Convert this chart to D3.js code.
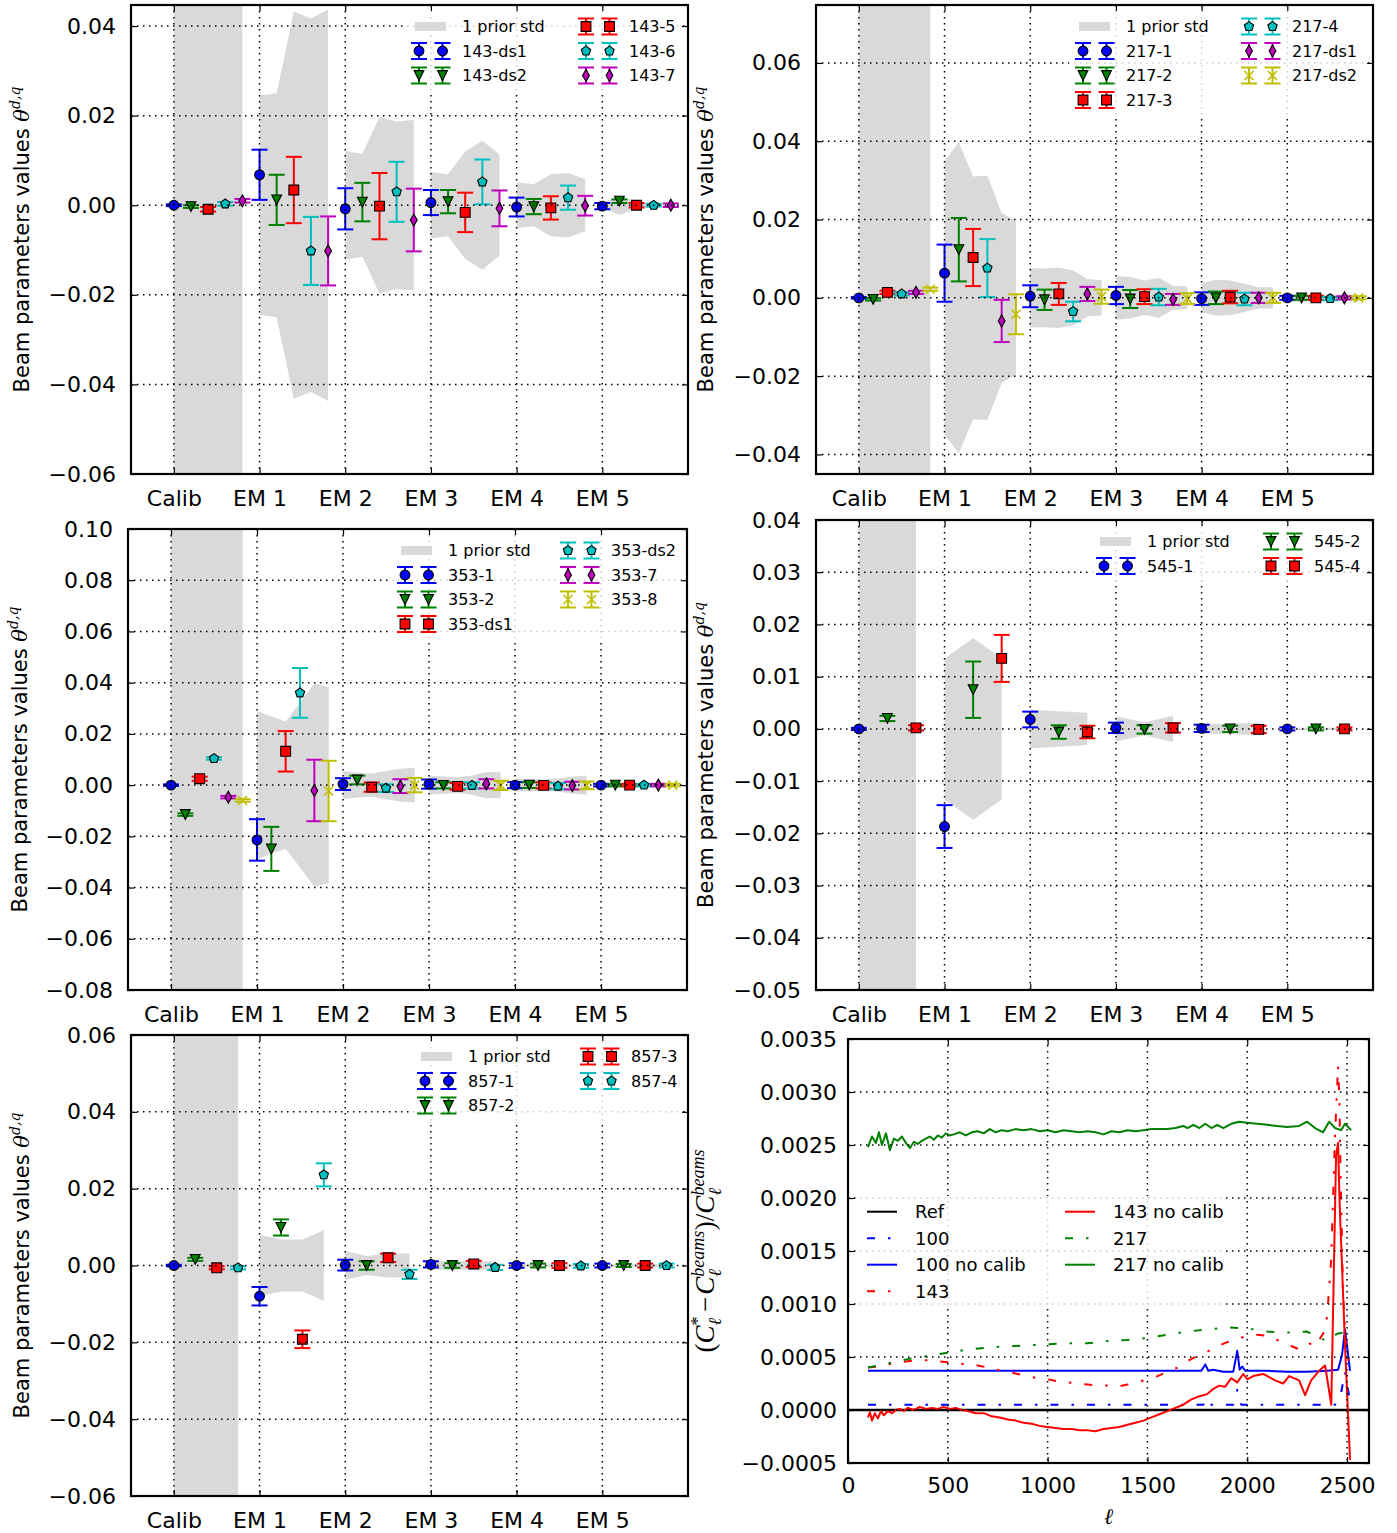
<!DOCTYPE html>
<html>
<head>
<meta charset="utf-8">
<script src="https://cdn.jsdelivr.net/npm/d3@7"></script>
<style>
  body { margin: 0; background: #fff; }
  svg { display: block; font-family: "DejaVu Sans", sans-serif; }
</style>
</head>
<body>
<svg id="fig" width="1397" height="1533"></svg>
<script>
"use strict";

// ---- categories ----
var groups = ["Calib", "EM 1", "EM 2", "EM 3", "EM 4", "EM 5"];
var groupPos = [0, 1, 2, 3, 4, 5];

// ---- 143 GHz  (series x group) ----
var names143 = ["143-ds1", "143-ds2", "143-5", "143-6", "143-7"];
var vals143 = [
  [0.0000, 0.0068, -0.0008, 0.0006, -0.0004, -0.0002],
  [-0.0003, 0.0012, 0.0007, 0.0008, -0.0003, 0.0009],
  [-0.0009, 0.0034, -0.0002, -0.0016, -0.0006, 0.0000],
  [0.0003, -0.0102, 0.0030, 0.0052, 0.0017, 0.0000],
  [0.0010, -0.0102, -0.0033, -0.0007, -0.0001, 0.0000]
];
var errs143 = [
  [0.0002, 0.0056, 0.0046, 0.0028, 0.0021, 0.0007],
  [0.0003, 0.0056, 0.0043, 0.0026, 0.0017, 0.0004],
  [0.0005, 0.0074, 0.0074, 0.0044, 0.0026, 0.0005],
  [0.0004, 0.0076, 0.0067, 0.0050, 0.0027, 0.0003],
  [0.0004, 0.0077, 0.0070, 0.0040, 0.0022, 0.0004]
];
// prior std (group x series)
var prior143 = [
  [1, 1, 1, 1, 1],
  [0.0245, 0.0250, 0.0432, 0.0417, 0.0437],
  [0.0121, 0.0115, 0.0197, 0.0187, 0.0190],
  [0.0074, 0.0069, 0.0120, 0.0144, 0.0113],
  [0.0051, 0.0047, 0.0069, 0.0072, 0.0058],
  [0.0005, 0.0022, 0.0008, 0.0004, 0.0004]
];
var yticks143 = [-0.06, -0.04, -0.02, 0.00, 0.02, 0.04];

// ---- 217 GHz ----
var names217 = ["217-1", "217-2", "217-3", "217-4", "217-ds1", "217-ds2"];
var vals217 = [
  [0.0000, 0.0063, 0.0004, 0.0006, -0.0002, 0.0000],
  [-0.0004, 0.0123, -0.0005, -0.0003, 0.0000, 0.0000],
  [0.0014, 0.0103, 0.0010, 0.0003, 0.0002, 0.0000],
  [0.0010, 0.0076, -0.0035, 0.0002, -0.0003, -0.0002],
  [0.0014, -0.0059, 0.0010, -0.0004, 0.0000, 0.0000],
  [0.0022, -0.0042, 0.0003, -0.0002, 0.0000, 0.0000]
];
var errs217 = [
  [0.0002, 0.0073, 0.0028, 0.0022, 0.0016, 0.0005],
  [0.0003, 0.0081, 0.0026, 0.0023, 0.0016, 0.0005],
  [0.0004, 0.0073, 0.0028, 0.0019, 0.0016, 0.0005],
  [0.0004, 0.0074, 0.0025, 0.0021, 0.0016, 0.0004],
  [0.0004, 0.0054, 0.0018, 0.0014, 0.0013, 0.0004],
  [0.0004, 0.0051, 0.0018, 0.0014, 0.0013, 0.0004]
];
var prior217 = [
  [1, 1, 1, 1, 1, 1],
  [0.0350, 0.0397, 0.0310, 0.0312, 0.0217, 0.0197],
  [0.0076, 0.0075, 0.0077, 0.0070, 0.0048, 0.0045],
  [0.0056, 0.0053, 0.0044, 0.0051, 0.0031, 0.0029],
  [0.0037, 0.0046, 0.0044, 0.0036, 0.0027, 0.0027],
  [0.0010, 0.0010, 0.0009, 0.0009, 0.0008, 0.0008]
];
var yticks217 = [-0.04, -0.02, 0.00, 0.02, 0.04, 0.06];

// ---- 353 GHz ----
var names353 = ["353-1", "353-2", "353-ds1", "353-ds2", "353-7", "353-8"];
var vals353 = [
  [0.0000, -0.0214, 0.0004, 0.0004, 0.0000, 0.0000],
  [-0.0115, -0.0249, 0.0020, -0.0001, 0.0000, 0.0000],
  [0.0025, 0.0132, -0.0008, -0.0005, -0.0001, 0.0000],
  [0.0104, 0.0360, -0.0012, -0.0001, -0.0004, 0.0000],
  [-0.0047, -0.0021, -0.0004, 0.0005, -0.0002, 0.0000],
  [-0.0060, -0.0023, 0.0000, -0.0001, -0.0001, 0.0000]
];
var errs353 = [
  [0.0003, 0.0081, 0.0023, 0.0018, 0.0012, 0.0005],
  [0.0005, 0.0086, 0.0017, 0.0012, 0.0011, 0.0005],
  [0.0008, 0.0079, 0.0018, 0.0013, 0.0012, 0.0005],
  [0.0005, 0.0097, 0.0015, 0.0012, 0.0012, 0.0005],
  [0.0005, 0.0120, 0.0027, 0.0018, 0.0015, 0.0005],
  [0.0005, 0.0118, 0.0028, 0.0018, 0.0015, 0.0005]
];
var prior353 = [
  [1, 1, 1, 1, 1, 1],
  [0.0290, 0.0268, 0.0248, 0.0322, 0.0396, 0.0383],
  [0.0054, 0.0048, 0.0045, 0.0055, 0.0064, 0.0068],
  [0.0038, 0.0034, 0.0031, 0.0038, 0.0051, 0.0050],
  [0.0025, 0.0024, 0.0022, 0.0026, 0.0033, 0.0038],
  [0.0005, 0.0005, 0.0005, 0.0005, 0.0005, 0.0005]
];
var yticks353 = [-0.08, -0.06, -0.04, -0.02, 0.00, 0.02, 0.04, 0.06, 0.08, 0.10];

// ---- 545 GHz ----
var names545 = ["545-1", "545-2", "545-4"];
var vals545 = [
  [0.0000, -0.0187, 0.0018, 0.0002, 0.0001, 0.0000],
  [0.0020, 0.0075, -0.0006, -0.0001, 0.0000, 0.0000],
  [0.0002, 0.0135, -0.0006, 0.0002, -0.0001, 0.0000]
];
var errs545 = [
  [0.0002, 0.0041, 0.0015, 0.0010, 0.0007, 0.0003],
  [0.0005, 0.0054, 0.0013, 0.0008, 0.0006, 0.0003],
  [0.0005, 0.0045, 0.0012, 0.0009, 0.0007, 0.0003]
];
var prior545 = [
  [1, 1, 1],
  [0.0135, 0.0174, 0.0135],
  [0.0037, 0.0034, 0.0031],
  [0.0024, 0.0012, 0.0025],
  [0.0010, 0.0010, 0.0012],
  [0.0002, 0.0002, 0.0002]
];
var yticks545 = [-0.05, -0.04, -0.03, -0.02, -0.01, 0.00, 0.01, 0.02, 0.03, 0.04];

// ---- 857 GHz ----
var names857 = ["857-1", "857-2", "857-3", "857-4"];
var vals857 = [
  [0.0000, -0.0080, 0.0001, 0.0003, 0.0000, 0.0000],
  [0.0016, 0.0099, 0.0000, 0.0000, 0.0000, 0.0000],
  [-0.0006, -0.0192, 0.0020, 0.0004, 0.0000, 0.0000],
  [-0.0006, 0.0236, -0.0023, -0.0005, -0.0001, 0.0000]
];
var errs857 = [
  [0.0002, 0.0024, 0.0014, 0.0008, 0.0006, 0.0005],
  [0.0004, 0.0021, 0.0011, 0.0006, 0.0005, 0.0004],
  [0.0004, 0.0023, 0.0011, 0.0008, 0.0006, 0.0005],
  [0.0004, 0.0030, 0.0012, 0.0007, 0.0005, 0.0005]
];
var prior857 = [
  [1, 1, 1, 1],
  [0.0080, 0.0068, 0.0068, 0.0092],
  [0.0038, 0.0025, 0.0031, 0.0031],
  [0.0011, 0.0011, 0.0011, 0.0011],
  [0.0003, 0.0003, 0.0003, 0.0003],
  [0.0003, 0.0003, 0.0003, 0.0003]
];
var yticks857 = [-0.06, -0.04, -0.02, 0.00, 0.02, 0.04, 0.06];

// ---- spectra ratio panel ----
var ellRef = [0, 2610];
var valRef = [0, 0];

var ell100 = [100, 400, 800, 1200, 1600, 1780, 1800, 1820, 1930, 1950, 1970, 2200, 2440, 2470, 2490, 2515];
var val100 = [0.00005, 0.00005, 0.00005, 0.00005, 0.00005, 0.00005, 0.00011, 0.00005, 0.00005, 0.00019, 0.00005, 0.00005, 0.00005, 0.00016, 0.00036, 0.00008];

var ell100nc = [100, 500, 1000, 1500, 1770, 1790, 1805, 1830, 1880, 1930, 1950, 1962, 1975, 1990, 2100, 2200, 2300, 2400, 2455, 2475, 2490, 2515];
var val100nc = [0.00037, 0.00037, 0.00037, 0.00037, 0.00037, 0.00043, 0.00037, 0.00038, 0.00036, 0.00036, 0.00056, 0.00038, 0.00041, 0.00037, 0.00037, 0.00036, 0.00036, 0.00037, 0.00038, 0.00052, 0.00076, 0.00037];

var ell143 = [100, 150, 200, 250, 300, 350, 400, 450, 500, 550, 600, 650, 700, 750, 800, 850, 900, 950, 1000, 1050, 1100, 1150, 1200, 1250, 1300, 1350, 1400, 1450, 1500, 1550, 1600, 1650, 1700, 1750, 1800, 1850, 1900, 1950, 2000, 2050, 2100, 2150, 2200, 2250, 2300, 2340, 2380, 2400, 2420, 2440, 2455, 2462, 2468, 2480, 2495, 2515];
var val143 = [0.00040, 0.00041, 0.00043, 0.00045, 0.00046, 0.00047, 0.00047, 0.00046, 0.00045, 0.00044, 0.00043, 0.00042, 0.00040, 0.00038, 0.00036, 0.00034, 0.00032, 0.00030, 0.00029, 0.00027, 0.00026, 0.00025, 0.00024, 0.00023, 0.00023, 0.00022, 0.00024, 0.00026, 0.00029, 0.00032, 0.00036, 0.00040, 0.00046, 0.00051, 0.00055, 0.00060, 0.00064, 0.00067, 0.00070, 0.00071, 0.00070, 0.00066, 0.00062, 0.00058, 0.00064, 0.00060, 0.00072, 0.00088, 0.00140, 0.00260, 0.00325, 0.00290, 0.00220, 0.00110, 0.00060, 0.00040];

var ell143nc = [100, 110, 120, 135, 150, 165, 180, 200, 220, 240, 260, 280, 300, 330, 360, 390, 420, 450, 480, 510, 540, 570, 600, 640, 680, 720, 760, 800, 840, 880, 920, 960, 1000, 1040, 1080, 1120, 1160, 1200, 1240, 1280, 1320, 1360, 1400, 1440, 1480, 1520, 1560, 1600, 1640, 1680, 1720, 1760, 1800, 1830, 1860, 1890, 1920, 1950, 1980, 2000, 2030, 2080, 2140, 2180, 2210, 2260, 2290, 2320, 2360, 2390, 2421, 2445, 2455, 2462, 2470, 2490, 2515];
var val143nc = [-0.00007, -0.00002, -0.00010, -0.00003, -0.00008, -0.00001, -0.00005, -0.00001, -0.00003, 0.00000, 0.00001, -0.00001, 0.00002, 0.00000, 0.00003, 0.00001, 0.00002, 0.00001, 0.00003, 0.00001, 0.00002, 0.00000, -0.00001, -0.00003, -0.00003, -0.00006, -0.00007, -0.00009, -0.00010, -0.00012, -0.00013, -0.00015, -0.00016, -0.00017, -0.00018, -0.00018, -0.00019, -0.00019, -0.00020, -0.00018, -0.00017, -0.00016, -0.00014, -0.00012, -0.00010, -0.00007, -0.00004, -0.00001, 0.00002, 0.00005, 0.00010, 0.00013, 0.00015, 0.00020, 0.00023, 0.00022, 0.00030, 0.00026, 0.00034, 0.00029, 0.00032, 0.00034, 0.00028, 0.00025, 0.00032, 0.00028, 0.00014, 0.00028, 0.00037, 0.00042, 0.00005, 0.00240, 0.00252, 0.00200, 0.00160, 0.00060, -0.00047];

var ell217 = [100, 200, 300, 400, 500, 600, 700, 800, 900, 1000, 1100, 1200, 1300, 1400, 1500, 1600, 1700, 1800, 1900, 2000, 2100, 2200, 2300, 2350, 2400, 2450, 2515];
var val217 = [0.00040, 0.00044, 0.00048, 0.00051, 0.00054, 0.00057, 0.00059, 0.00060, 0.00061, 0.00062, 0.00063, 0.00063, 0.00065, 0.00066, 0.00068, 0.00071, 0.00074, 0.00076, 0.00078, 0.00077, 0.00074, 0.00073, 0.00074, 0.00069, 0.00065, 0.00072, 0.00074];

var ell217nc = [100, 120, 140, 155, 170, 190, 210, 230, 250, 270, 290, 310, 330, 350, 370, 390, 410, 430, 450, 470, 490, 510, 530, 560, 590, 620, 650, 680, 710, 740, 770, 800, 840, 880, 920, 960, 1000, 1040, 1080, 1120, 1160, 1200, 1240, 1280, 1320, 1360, 1400, 1440, 1480, 1520, 1560, 1600, 1640, 1680, 1700, 1730, 1760, 1790, 1820, 1850, 1880, 1920, 1960, 2000, 2050, 2100, 2150, 2200, 2260, 2300, 2340, 2380, 2410, 2440, 2470, 2490, 2520];
var val217nc = [0.00248, 0.00258, 0.00252, 0.00262, 0.00250, 0.00261, 0.00245, 0.00256, 0.00254, 0.00258, 0.00252, 0.00247, 0.00253, 0.00251, 0.00254, 0.00256, 0.00258, 0.00255, 0.00259, 0.00257, 0.00261, 0.00259, 0.00260, 0.00262, 0.00259, 0.00262, 0.00263, 0.00261, 0.00265, 0.00262, 0.00264, 0.00263, 0.00265, 0.00264, 0.00265, 0.00263, 0.00264, 0.00262, 0.00264, 0.00263, 0.00262, 0.00263, 0.00262, 0.00260, 0.00263, 0.00262, 0.00264, 0.00263, 0.00264, 0.00265, 0.00265, 0.00265, 0.00266, 0.00268, 0.00266, 0.00269, 0.00266, 0.00270, 0.00266, 0.00269, 0.00266, 0.00270, 0.00272, 0.00271, 0.00270, 0.00269, 0.00268, 0.00267, 0.00268, 0.00272, 0.00266, 0.00262, 0.00272, 0.00266, 0.00264, 0.00270, 0.00264];

var yticksCl = [-0.0005, 0.0000, 0.0005, 0.0010, 0.0015, 0.0020, 0.0025, 0.0030, 0.0035];
var xticksCl = [0, 500, 1000, 1500, 2000, 2500];

// ---- styles ----
var seriesColor = ["#0000ff", "#008000", "#ff0000", "#00bfbf", "#bf00bf", "#bfbf00"];
var seriesMarker = ["o", "v", "s", "p", "d", "x"];
var priorFill = "#d9d9d9";

var svg = d3.select("#fig");

function markerPath(type) {
  var r = 4.9;
  switch (type) {
    case "o":
      return "M" + r + ",0A" + r + "," + r + " 0 1,1 " + (-r) + ",0A" + r + "," + r + " 0 1,1 " + r + ",0Z";
    case "v":
      return "M0," + r + "L" + (-r) + "," + (-r) + "L" + r + "," + (-r) + "Z";
    case "s":
      return "M" + (-r) + "," + (-r) + "H" + r + "V" + r + "H" + (-r) + "Z";
    case "p":
      var pts = d3.range(5).map(function(k) {
        var a = -Math.PI / 2 + k * 2 * Math.PI / 5;
        return [r * Math.cos(a), r * Math.sin(a)];
      });
      return "M" + pts.map(function(p) { return p[0].toFixed(2) + "," + p[1].toFixed(2); }).join("L") + "Z";
    case "d":
      return "M0," + (-6) + "L3.4,0L0,6L-3.4,0Z";
    case "x":
      return "M-4.5,-4.5L4.5,4.5M-4.5,4.5L4.5,-4.5";
  }
}

function drawMarker(sel, cx, cy, j) {
  var m = seriesMarker[j];
  var p = sel.append("path")
    .attr("d", markerPath(m))
    .attr("transform", "translate(" + cx + "," + cy + ")");
  if (m === "x") {
    p.attr("fill", "none").attr("stroke", seriesColor[j]).attr("stroke-width", 1.6);
  } else {
    p.attr("fill", seriesColor[j]).attr("stroke", "#000").attr("stroke-width", 1.1);
  }
}

function drawErr(sel, cx, cy, yLo, yHi, j) {
  var c = seriesColor[j];
  var cap = 8;
  sel.append("line")
    .attr("x1", cx).attr("x2", cx).attr("y1", yLo).attr("y2", yHi)
    .attr("stroke", c).attr("stroke-width", 2);
  [yLo, yHi].forEach(function(yy) {
    sel.append("line")
      .attr("x1", cx - cap).attr("x2", cx + cap).attr("y1", yy).attr("y2", yy)
      .attr("stroke", c).attr("stroke-width", 2);
  });
  drawMarker(sel, cx, cy, j);
}

function styleAxis(g, size) {
  g.attr("font-family", "DejaVu Sans, sans-serif").attr("font-size", size);
  g.select(".domain").remove();
  g.selectAll(".tick line").attr("stroke", "#000").attr("stroke-width", 1.2);
  g.selectAll(".tick text").attr("fill", "#000");
}

function drawFrame(p) {
  svg.append("rect")
    .attr("x", p.l).attr("y", p.t)
    .attr("width", p.r - p.l).attr("height", p.b - p.t)
    .attr("fill", "none").attr("stroke", "#000").attr("stroke-width", 2.2);
}

function drawGrid(p, x, y, xt, yt) {
  var gg = svg.append("g")
    .attr("stroke", "#000").attr("stroke-width", 1.5)
    .attr("stroke-dasharray", "1.5,4.5");
  yt.forEach(function(t) {
    gg.append("line").attr("x1", p.l).attr("x2", p.r).attr("y1", y(t)).attr("y2", y(t));
  });
  xt.forEach(function(t) {
    gg.append("line").attr("x1", x(t)).attr("x2", x(t)).attr("y1", p.t).attr("y2", p.b);
  });
}

function thetaLabel(cx, cy) {
  var t = svg.append("text")
    .attr("transform", "translate(" + cx + "," + cy + ") rotate(-90)")
    .attr("text-anchor", "middle")
    .attr("dy", "0.35em")
    .attr("font-size", 21)
    .attr("fill", "#000");
  t.append("tspan").text("Beam parameters values ");
  t.append("tspan").attr("font-family", "DejaVu Serif, serif").attr("font-style", "italic").text("\u03b8");
  t.append("tspan").attr("font-family", "DejaVu Serif, serif").attr("font-style", "italic")
    .attr("font-size", 14).attr("dy", -9).text("d,q");
}

function errPanel(p) {
  var x = d3.scaleLinear().domain([-0.5, 6]).range([p.l, p.r]);
  var y = d3.scaleLinear().domain(p.yDomain).range([p.b, p.t]);
  var n = p.names.length;
  var px = function(gi, j) { return x(gi + j / n); };

  svg.append("clipPath").attr("id", "clip-" + p.id)
    .append("rect").attr("x", p.l).attr("y", p.t)
    .attr("width", p.r - p.l).attr("height", p.b - p.t);
  var plot = svg.append("g").attr("clip-path", "url(#clip-" + p.id + ")");

  // prior std bands
  var area = d3.area()
    .x(function(d) { return px(d.g, d.j); })
    .y0(function(d) { return y(-d.s); })
    .y1(function(d) { return y(d.s); });
  p.prior.forEach(function(row, gi) {
    plot.append("path")
      .datum(row.map(function(s, j) { return { g: gi, j: j, s: s }; }))
      .attr("d", area)
      .attr("fill", priorFill);
  });

  // error bars and markers, series by series
  p.names.forEach(function(name, j) {
    var sg = plot.append("g").attr("class", "series-" + name);
    groupPos.forEach(function(gi) {
      var v = p.vals[j][gi], e = p.errs[j][gi];
      drawErr(sg, px(gi, j), y(v), y(v - e), y(v + e), j);
    });
  });

  drawGrid(p, x, y, groupPos, p.yTicks);

  // axes, ticks inside on all sides
  var fmt = d3.format(".2f");
  svg.append("g").attr("transform", "translate(" + p.l + ",0)")
    .call(d3.axisLeft(y).tickValues(p.yTicks).tickFormat(fmt).tickSize(-6).tickPadding(15))
    .call(styleAxis, 22);
  svg.append("g").attr("transform", "translate(" + p.r + ",0)")
    .call(d3.axisRight(y).tickValues(p.yTicks).tickFormat("").tickSize(-6))
    .call(styleAxis, 22);
  svg.append("g").attr("transform", "translate(0," + p.b + ")")
    .call(d3.axisBottom(x).tickValues(groupPos).tickFormat(function(i) { return groups[i]; }).tickSize(-6).tickPadding(16))
    .call(styleAxis, 22);
  svg.append("g").attr("transform", "translate(0," + p.t + ")")
    .call(d3.axisTop(x).tickValues(groupPos).tickFormat("").tickSize(-6))
    .call(styleAxis, 22);
  drawFrame(p);

  // legend: prior patch + series, two columns, on a translucent white box
  var entries = [{ label: "1 prior std", j: -1 }].concat(p.names.map(function(nm, j) { return { label: nm, j: j }; }));
  var perCol = Math.ceil(entries.length / 2);
  var lg = svg.append("g").attr("font-size", 16);
  lg.append("rect")
    .attr("x", p.legendX[0] - 14).attr("y", p.t + 6)
    .attr("width", p.r - 6 - (p.legendX[0] - 14))
    .attr("height", 31 + (perCol - 1) * 24.5)
    .attr("fill", "#fff").attr("fill-opacity", 0.8);
  entries.forEach(function(en, k) {
    var col = k < perCol ? 0 : 1;
    var row = col === 0 ? k : k - perCol;
    var mx = p.legendX[col];
    var ry = p.t + 21.5 + row * 24.5;
    if (en.j < 0) {
      lg.append("rect").attr("x", mx - 4).attr("y", ry - 4.5)
        .attr("width", 31).attr("height", 9).attr("fill", priorFill);
    } else {
      [mx, mx + 23.5].forEach(function(cx) {
        drawErr(lg, cx, ry, ry + 8, ry - 8, en.j);
      });
    }
    lg.append("text").attr("x", mx + 43).attr("y", ry).attr("dy", "0.35em")
      .attr("fill", "#000").text(en.label);
  });

  thetaLabel(p.labelX, (p.t + p.b) / 2);
}

errPanel({ id: "p143", l: 131, r: 688, t: 5, b: 474, yDomain: [-0.06, 0.0447], yTicks: yticks143,
  names: names143, vals: vals143, errs: errs143, prior: prior143, legendX: [419, 586], labelX: 22 });
errPanel({ id: "p217", l: 816, r: 1373, t: 5, b: 474, yDomain: [-0.045, 0.0748], yTicks: yticks217,
  names: names217, vals: vals217, errs: errs217, prior: prior217, legendX: [1083, 1249], labelX: 706 });
errPanel({ id: "p353", l: 128, r: 687, t: 529, b: 990, yDomain: [-0.08, 0.10], yTicks: yticks353,
  names: names353, vals: vals353, errs: errs353, prior: prior353, legendX: [405, 568], labelX: 20 });
errPanel({ id: "p545", l: 816, r: 1373, t: 520, b: 990, yDomain: [-0.05, 0.04], yTicks: yticks545,
  names: names545, vals: vals545, errs: errs545, prior: prior545, legendX: [1104, 1271], labelX: 706 });
errPanel({ id: "p857", l: 131, r: 688, t: 1035, b: 1496, yDomain: [-0.06, 0.06], yTicks: yticks857,
  names: names857, vals: vals857, errs: errs857, prior: prior857, legendX: [425, 588], labelX: 22 });

// ---- C_ell ratio panel ----
(function() {
  var p = { l: 848, r: 1369, t: 1039, b: 1463 };
  var x = d3.scaleLinear().domain([0, 2610]).range([p.l, p.r]);
  var y = d3.scaleLinear().domain([-0.0005, 0.0035]).range([p.b, p.t]);
  var dashDot = "8,13,2.5,13";

  var lines = [
    { label: "Ref", ell: ellRef, val: valRef, color: "#000", dash: null },
    { label: "100", ell: ell100, val: val100, color: "#0000ff", dash: dashDot },
    { label: "100 no calib", ell: ell100nc, val: val100nc, color: "#0000ff", dash: null },
    { label: "143", ell: ell143, val: val143, color: "#ff0000", dash: dashDot },
    { label: "143 no calib", ell: ell143nc, val: val143nc, color: "#ff0000", dash: null },
    { label: "217", ell: ell217, val: val217, color: "#008000", dash: dashDot },
    { label: "217 no calib", ell: ell217nc, val: val217nc, color: "#008000", dash: null }
  ];

  svg.append("clipPath").attr("id", "clip-cl")
    .append("rect").attr("x", p.l).attr("y", p.t)
    .attr("width", p.r - p.l).attr("height", p.b - p.t);
  var plot = svg.append("g").attr("clip-path", "url(#clip-cl)");

  var line = d3.line()
    .x(function(d) { return x(d[0]); })
    .y(function(d) { return y(d[1]); });

  lines.forEach(function(ln) {
    plot.append("path")
      .datum(d3.zip(ln.ell, ln.val))
      .attr("d", line)
      .attr("fill", "none")
      .attr("stroke", ln.color)
      .attr("stroke-width", ln.label === "Ref" ? 2.4 : 2)
      .attr("stroke-linejoin", "round")
      .attr("stroke-dasharray", ln.dash);
  });

  drawGrid(p, x, y, xticksCl, yticksCl);

  svg.append("g").attr("transform", "translate(" + p.l + ",0)")
    .call(d3.axisLeft(y).tickValues(yticksCl).tickFormat(d3.format(".4f")).tickSize(-6).tickPadding(11))
    .call(styleAxis, 22);
  svg.append("g").attr("transform", "translate(" + p.r + ",0)")
    .call(d3.axisRight(y).tickValues(yticksCl).tickFormat("").tickSize(-6))
    .call(styleAxis, 22);
  svg.append("g").attr("transform", "translate(0," + p.b + ")")
    .call(d3.axisBottom(x).tickValues(xticksCl).tickFormat(d3.format("d")).tickSize(-6).tickPadding(14))
    .call(styleAxis, 22);
  svg.append("g").attr("transform", "translate(0," + p.t + ")")
    .call(d3.axisTop(x).tickValues(xticksCl).tickFormat("").tickSize(-6))
    .call(styleAxis, 22);
  drawFrame(p);

  // legend
  var lg = svg.append("g").attr("font-size", 18);
  lg.append("rect")
    .attr("x", 856).attr("y", 1196)
    .attr("width", 370).attr("height", 110)
    .attr("fill", "#fff").attr("fill-opacity", 0.8);
  var colX = [867, 1065];
  lines.forEach(function(ln, k) {
    var col = k < 4 ? 0 : 1;
    var row = col === 0 ? k : k - 4;
    var ry = 1211.7 + row * 26.5;
    lg.append("line")
      .attr("x1", colX[col]).attr("x2", colX[col] + 30)
      .attr("y1", ry).attr("y2", ry)
      .attr("stroke", ln.color).attr("stroke-width", 2)
      .attr("stroke-dasharray", ln.dash);
    lg.append("text").attr("x", colX[col] + 48).attr("y", ry).attr("dy", "0.35em")
      .attr("fill", "#000").text(ln.label);
  });

  // x label
  svg.append("text")
    .attr("x", (p.l + p.r) / 2).attr("y", 1524)
    .attr("text-anchor", "middle")
    .attr("font-family", "DejaVu Serif, serif").attr("font-style", "italic")
    .attr("font-size", 22).attr("fill", "#000")
    .text("\u2113");

  // y label (C*_l - C_l^beams)/C_l^beams
  var t = svg.append("text")
    .attr("transform", "translate(705," + (p.t + p.b) / 2 + ") rotate(-90)")
    .attr("text-anchor", "middle")
    .attr("dy", "0.35em")
    .attr("font-family", "Liberation Serif, DejaVu Serif, serif")
    .attr("font-size", 27)
    .attr("fill", "#000");
  t.append("tspan").text("(");
  t.append("tspan").attr("font-style", "italic").text("C");
  t.append("tspan").attr("font-size", 18).attr("dy", -10).text("*");
  t.append("tspan").attr("font-size", 18).attr("font-style", "italic").attr("dx", -9).attr("dy", 17).text("\u2113");
  t.append("tspan").attr("dy", -7).attr("dx", 6).text("\u2212");
  t.append("tspan").attr("font-style", "italic").attr("dx", 2).text("C");
  t.append("tspan").attr("font-size", 18).attr("font-style", "italic").attr("dy", -10).text("beams");
  t.append("tspan").attr("font-size", 18).attr("font-style", "italic").attr("dx", -46).attr("dy", 17).text("\u2113");
  t.append("tspan").attr("dx", 39).attr("dy", -7).text(")/");
  t.append("tspan").attr("font-style", "italic").text("C");
  t.append("tspan").attr("font-size", 18).attr("font-style", "italic").attr("dy", -10).text("beams");
  t.append("tspan").attr("font-size", 18).attr("font-style", "italic").attr("dx", -46).attr("dy", 17).text("\u2113");
})();
</script>
</body>
</html>
